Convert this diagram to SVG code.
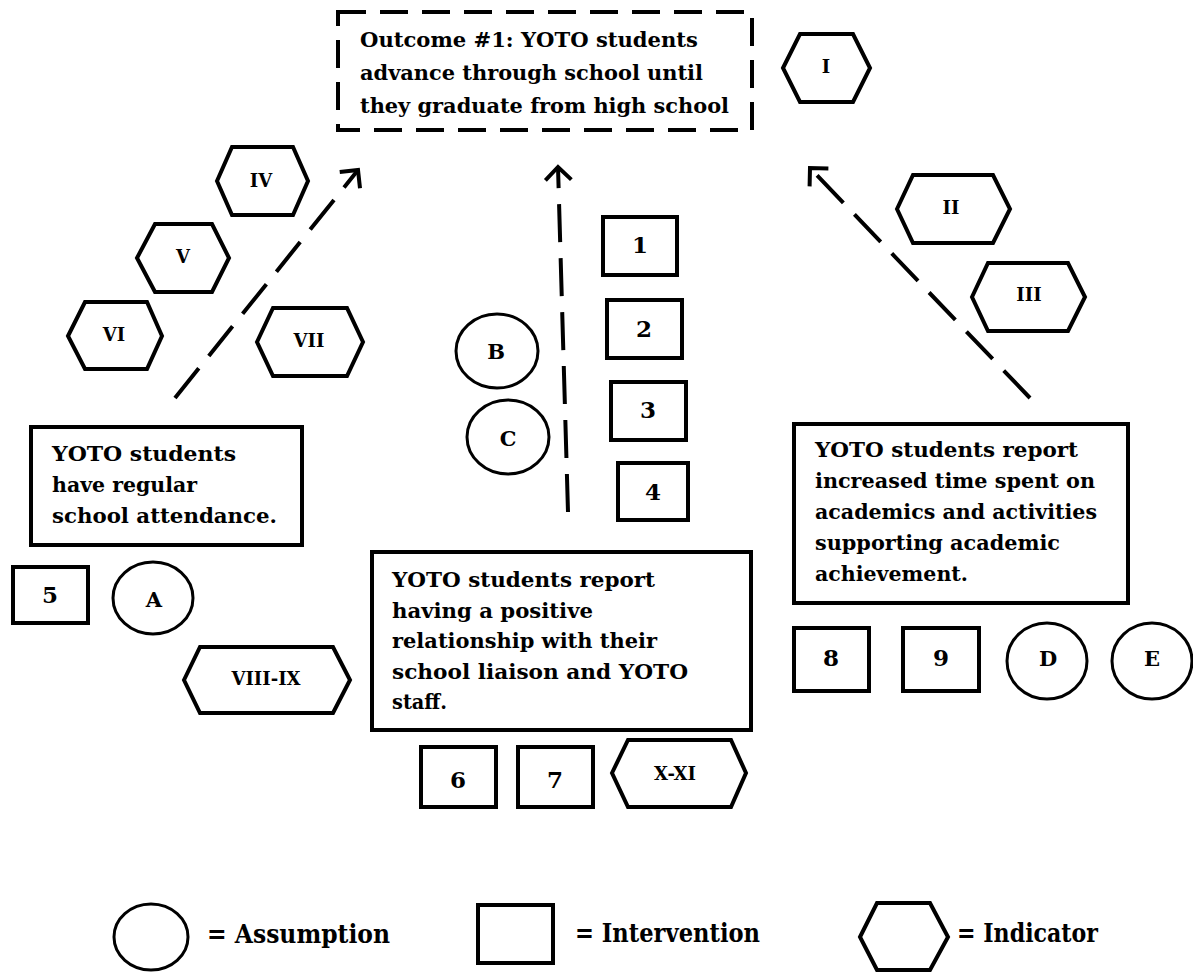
<svg xmlns="http://www.w3.org/2000/svg" width="1193" height="972" viewBox="0 0 1193 972">
  <style>
    .box{fill:#fff;stroke:#000;stroke-width:4}
    .outcome{fill:#fff;stroke:#000;stroke-width:4;stroke-dasharray:28 14}
    .hex{fill:#fff;stroke:#000;stroke-width:4;stroke-linejoin:miter}
    .circ{fill:#fff;stroke:#000;stroke-width:3}
    .t{font-family:"DejaVu Serif","Liberation Serif",serif;font-weight:bold;fill:#000}
    .body{font-size:21px}
    .num{font-size:23px;text-anchor:middle}
    .rom{font-size:18px;text-anchor:middle}
    .let{font-size:21px;text-anchor:middle}
    .leg{font-size:26px}
    .conn{fill:none;stroke:#000;stroke-width:4;stroke-dasharray:38 16}
  </style>
  <defs>
    <marker id="arrow" markerUnits="userSpaceOnUse" viewBox="-16 -16 20 32" markerWidth="20" markerHeight="32" refX="0" refY="0" orient="auto">
      <path d="M-13,-13 L0,0 L-13,13" fill="none" stroke="#000" stroke-width="4" stroke-linejoin="miter"/>
    </marker>
  </defs>

  <!-- connectors -->
  <g id="connectors">
    <path class="conn" d="M175,398 L358,170" marker-end="url(#arrow)"/>
    <path class="conn" d="M568,512 L558,167" marker-end="url(#arrow)"/>
    <path class="conn" d="M1030,398 L810,168" marker-end="url(#arrow)"/>
  </g>

  <!-- outcome -->
  <g id="outcome">
    <rect class="outcome" x="338" y="12" width="414" height="118"/>
    <text class="t body" x="360" y="47" textLength="338" lengthAdjust="spacingAndGlyphs">Outcome #1: YOTO students</text>
    <text class="t body" x="360" y="80" textLength="343" lengthAdjust="spacingAndGlyphs">advance through school until</text>
    <text class="t body" x="360" y="113" textLength="369" lengthAdjust="spacingAndGlyphs">they graduate from high school</text>
  </g>

  <!-- short-term outcomes -->
  <g id="attendance">
    <rect class="box" x="31" y="427" width="271" height="118"/>
    <text class="t body" x="52" y="461" textLength="184" lengthAdjust="spacingAndGlyphs">YOTO students</text>
    <text class="t body" x="52" y="492" textLength="145" lengthAdjust="spacingAndGlyphs">have regular</text>
    <text class="t body" x="52" y="523" textLength="225" lengthAdjust="spacingAndGlyphs">school attendance.</text>
  </g>
  <g id="relationship">
    <rect class="box" x="372" y="552" width="379" height="178"/>
    <text class="t body" x="392" y="587" textLength="263" lengthAdjust="spacingAndGlyphs">YOTO students report</text>
    <text class="t body" x="392" y="618" textLength="201" lengthAdjust="spacingAndGlyphs">having a positive</text>
    <text class="t body" x="392" y="648" textLength="265" lengthAdjust="spacingAndGlyphs">relationship with their</text>
    <text class="t body" x="392" y="679" textLength="296" lengthAdjust="spacingAndGlyphs">school liaison and YOTO</text>
    <text class="t body" x="392" y="709" textLength="55" lengthAdjust="spacingAndGlyphs">staff.</text>
  </g>
  <g id="academics">
    <rect class="box" x="794" y="424" width="334" height="179"/>
    <text class="t body" x="815" y="457" textLength="263" lengthAdjust="spacingAndGlyphs">YOTO students report</text>
    <text class="t body" x="815" y="488" textLength="280" lengthAdjust="spacingAndGlyphs">increased time spent on</text>
    <text class="t body" x="815" y="519" textLength="282" lengthAdjust="spacingAndGlyphs">academics and activities</text>
    <text class="t body" x="815" y="550" textLength="245" lengthAdjust="spacingAndGlyphs">supporting academic</text>
    <text class="t body" x="815" y="581" textLength="153" lengthAdjust="spacingAndGlyphs">achievement.</text>
  </g>

  <!-- interventions -->
  <g id="int-1"><rect class="box" x="603" y="217" width="74" height="58"/><text class="t num" x="640" y="253">1</text></g>
  <g id="int-2"><rect class="box" x="607" y="300" width="75" height="58"/><text class="t num" x="644" y="337">2</text></g>
  <g id="int-3"><rect class="box" x="611" y="382" width="75" height="58"/><text class="t num" x="648" y="418">3</text></g>
  <g id="int-4"><rect class="box" x="618" y="463" width="70" height="57"/><text class="t num" x="653" y="500">4</text></g>
  <g id="int-5"><rect class="box" x="13" y="567" width="75" height="56"/><text class="t num" x="50" y="603">5</text></g>
  <g id="int-6"><rect class="box" x="421" y="747" width="75" height="60"/><text class="t num" x="458" y="788">6</text></g>
  <g id="int-7"><rect class="box" x="518" y="747" width="75" height="60"/><text class="t num" x="555" y="788">7</text></g>
  <g id="int-8"><rect class="box" x="794" y="628" width="75" height="63"/><text class="t num" x="831" y="666">8</text></g>
  <g id="int-9"><rect class="box" x="903" y="628" width="76" height="63"/><text class="t num" x="941" y="666">9</text></g>

  <!-- assumptions -->
  <g id="asm-A"><ellipse class="circ" cx="153" cy="598" rx="40" ry="36"/><text class="t let" x="154" y="607">A</text></g>
  <g id="asm-B"><ellipse class="circ" cx="497" cy="351" rx="41" ry="37"/><text class="t let" x="496" y="359">B</text></g>
  <g id="asm-C"><ellipse class="circ" cx="508" cy="437" rx="41" ry="37"/><text class="t let" x="508" y="446">C</text></g>
  <g id="asm-D"><ellipse class="circ" cx="1047" cy="661" rx="40" ry="38"/><text class="t let" x="1048" y="666">D</text></g>
  <g id="asm-E"><ellipse class="circ" cx="1152" cy="661" rx="40" ry="38"/><text class="t let" x="1152" y="666">E</text></g>

  <!-- indicators -->
  <g id="ind-I"><polygon class="hex" points="783,68 800,34 853,34 870,68 853,102 800,102"/><text class="t rom" x="826" y="73">I</text></g>
  <g id="ind-II"><polygon class="hex" points="897,209 913,175 993,175 1010,209 993,243 913,243"/><text class="t rom" x="951" y="214">II</text></g>
  <g id="ind-III"><polygon class="hex" points="972,297 988,263 1068,263 1085,297 1068,331 988,331"/><text class="t rom" x="1029" y="301">III</text></g>
  <g id="ind-IV"><polygon class="hex" points="217,181 232,147 293,147 308,181 293,215 232,215"/><text class="t rom" x="261" y="187">IV</text></g>
  <g id="ind-V"><polygon class="hex" points="137,258 155,224 212,224 229,258 212,292 155,292"/><text class="t rom" x="183" y="263">V</text></g>
  <g id="ind-VI"><polygon class="hex" points="68,336 85,302 147,302 162,336 147,369 85,369"/><text class="t rom" x="114" y="341">VI</text></g>
  <g id="ind-VII"><polygon class="hex" points="257,342 273,308 347,308 363,342 347,376 273,376"/><text class="t rom" x="309" y="347">VII</text></g>
  <g id="ind-VIII-IX"><polygon class="hex" points="184,680 200,647 333,647 350,680 333,713 200,713"/><text class="t rom" x="266" y="685">VIII-IX</text></g>
  <g id="ind-X-XI"><polygon class="hex" points="612,773 628,740 731,740 746,773 731,807 628,807"/><text class="t rom" x="675" y="780">X-XI</text></g>

  <!-- legend -->
  <g id="legend">
    <ellipse class="circ" cx="151" cy="937" rx="37" ry="33"/>
    <text class="t leg" x="207" y="943" textLength="183" lengthAdjust="spacingAndGlyphs">= Assumption</text>
    <rect class="box" x="478" y="905" width="75" height="58"/>
    <text class="t leg" x="575" y="942" textLength="185" lengthAdjust="spacingAndGlyphs">= Intervention</text>
    <polygon class="hex" points="860,937 877,903 930,903 948,937 930,970 877,970"/>
    <text class="t leg" x="957" y="942" textLength="141" lengthAdjust="spacingAndGlyphs">= Indicator</text>
  </g>
</svg>
